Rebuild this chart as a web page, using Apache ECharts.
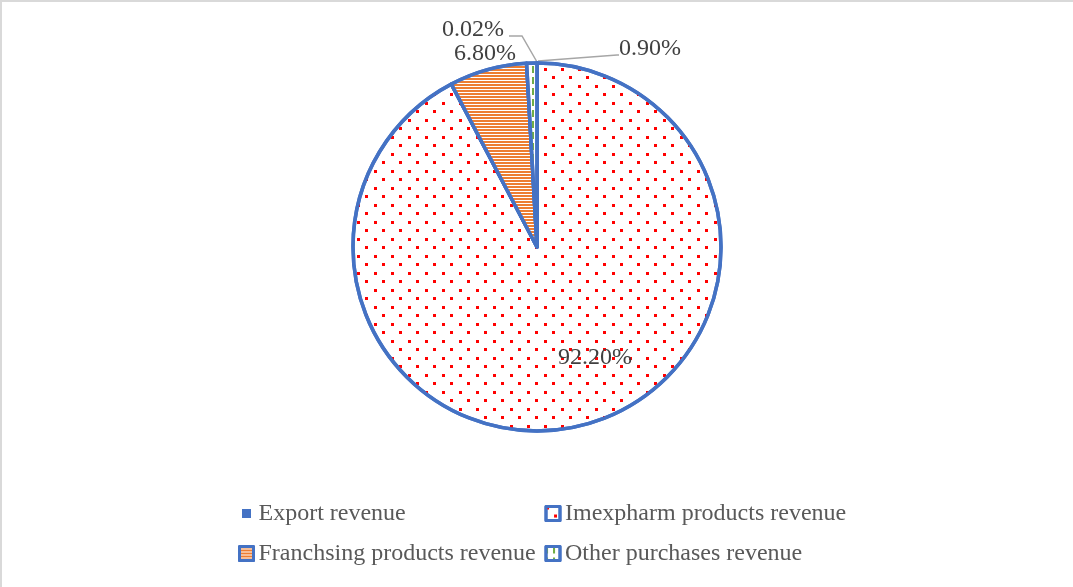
<!DOCTYPE html>
<html>
<head>
<meta charset="utf-8">
<script src="https://cdn.jsdelivr.net/npm/echarts@6/dist/echarts.min.js"></script>
<style>
  html, body { margin: 0; padding: 0; background: #fff; }
  #chart { width: 1073px; height: 587px; }
</style>
</head>
<body>
<div id="chart"></div>
<script>
// Revenue structure (share of total, %)
const categories = [
  'Export revenue',
  'Imexpharm products revenue',
  'Franchsing products revenue',
  'Other purchases revenue'
];
const shares = [0.02, 92.20, 6.80, 0.90];

const BLUE = '#4472C4';
const ORANGE = '#ED7D31';
const GREEN = '#70AD47';
const RED = '#FF0000';
const FONT = '"Liberation Serif", "Times New Roman", serif';

// Fill style of each slice
const sliceStyles = [
  { color: BLUE },
  { color: '#FFFFFF', decal: { symbol: 'rect', symbolSize: 1, color: RED,
      dashArrayX: [[3, 14], [0, 8, 3, 6]], dashArrayY: [3, 5, 3, 6] } },
  { color: '#FFFFFF', decal: { symbol: 'rect', symbolSize: 1, color: ORANGE,
      dashArrayX: [10, 0], dashArrayY: [2, 1] } },
  { color: '#FFFFFF', decal: { symbol: 'rect', symbolSize: 1, color: GREEN,
      dashArrayX: [2, 5], dashArrayY: [7, 4] } }
];

// Where each data label sits, and its guide line where it has one
const labelSpots = [
  { x: 473, y: 30, line: [[537, 62], [522, 36], [509, 36]] },
  { x: 595, y: 358 },
  { x: 485, y: 54 },
  { x: 650, y: 49, line: [[538, 61], [617, 55], [619, 55]] }
];

const chart = echarts.init(document.getElementById('chart'), null, { renderer: 'canvas' });

const pieData = categories.map((name, i) => ({
  name,
  value: shares[i],
  itemStyle: sliceStyles[i],
  label: { position: i === 1 ? 'inside' : 'outside' },
  labelLine: { show: !!labelSpots[i].line }
}));

const legendData = categories.map((name, i) => i === 0
  ? { name, itemStyle: { borderColor: '#FFFFFF', borderWidth: 5 } }
  : { name });

chart.setOption({
  backgroundColor: '#FFFFFF',
  animation: false,
  graphic: [{
    type: 'polyline',
    shape: { points: [[1, 587], [1, 1], [1073, 1]] },
    style: { stroke: '#D9D9D9', lineWidth: 2, fill: null }
  }],
  legend: {
    data: legendData,
    orient: 'horizontal',
    left: 237,
    top: 496,
    width: 640,
    padding: 0,
    itemGap: 5,
    itemWidth: 14,
    itemHeight: 14,
    icon: 'rect',
    itemStyle: { borderWidth: 3, borderColor: BLUE },
    textStyle: { fontFamily: FONT, fontSize: 24, color: '#595959', width: 281, lineHeight: 35 }
  },
  series: [{
    type: 'pie',
    center: [537, 247],
    radius: 184,
    startAngle: 90,
    clockwise: true,
    avoidLabelOverlap: false,
    itemStyle: { borderColor: BLUE, borderWidth: 3.5 },
    emphasis: { disabled: true },
    label: {
      show: true,
      fontFamily: FONT,
      fontSize: 24,
      color: '#404040',
      formatter: p => p.value.toFixed(2) + '%'
    },
    labelLine: {
      show: true,
      lineStyle: { color: '#A6A6A6', width: 1.5 }
    },
    labelLayout: p => {
      const s = labelSpots[p.dataIndex];
      const out = { x: s.x, y: s.y, align: 'center', verticalAlign: 'middle' };
      if (s.line) out.labelLinePoints = s.line;
      return out;
    },
    data: pieData
  }]
});
</script>
</body>
</html>
